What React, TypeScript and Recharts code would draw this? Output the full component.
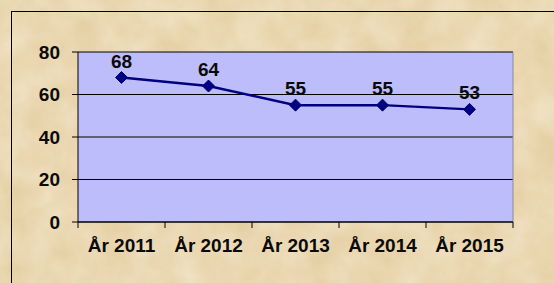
import React from 'react'
import { LineChart, Line, XAxis, YAxis, CartesianGrid, LabelList } from 'recharts'

const years = ['År 2011', 'År 2012', 'År 2013', 'År 2014', 'År 2015']
const values = [68, 64, 55, 55, 53]
const yTicks = [0, 20, 40, 60, 80]

const W = 554
const H = 283
const plotLeft = 78
const plotRight = 41
const halfBand = (W - plotLeft - plotRight) / years.length / 2

const font = 'Arial, "Liberation Sans", sans-serif'
const textFill = '#0a0a0a'

// category label plus the small tick mark at the left band edge (and right edge for the last one)
function YearTick(props: any) {
  const { x, y, payload, index } = props
  return (
    <g>
      <line x1={x - halfBand} x2={x - halfBand} y1={y} y2={y + 6} stroke="#000" strokeWidth={1} />
      {index === years.length - 1 && (
        <line x1={x + halfBand} x2={x + halfBand} y1={y} y2={y + 6} stroke="#000" strokeWidth={1} />
      )}
      <text x={x} y={y + 30} textAnchor="middle" fontFamily={font} fontWeight="bold" fontSize={19} fill={textFill}>
        {payload.value}
      </text>
    </g>
  )
}

function Diamond(props: any) {
  const { cx, cy } = props
  if (cx == null || cy == null) return null
  const r = 6
  return (
    <polygon
      points={`${cx},${cy - r} ${cx + r},${cy} ${cx},${cy + r} ${cx - r},${cy}`}
      fill="#000080"
      stroke="#000080"
    />
  )
}

export default function App() {
  const data = years.map((year, i) => ({ year, value: values[i] }))

  return (
    <div style={{ position: 'absolute', left: 0, top: 0, width: W, height: H, overflow: 'hidden', background: '#E4CDA0' }}>
      <svg width={W} height={H} style={{ position: 'absolute', left: 0, top: 0 }}>
        <defs>
          <filter id="paper" x="0" y="0" width="100%" height="100%">
            <feTurbulence type="fractalNoise" baseFrequency="0.03" numOctaves={4} seed={3} />
            <feColorMatrix type="matrix" values="0 0 0 0 0.98  0 0 0 0 0.93  0 0 0 0 0.8  0 0 0 0.6 -0.05" />
          </filter>
        </defs>
        <rect width={W} height={H} filter="url(#paper)" />
      </svg>
      <div style={{ position: 'absolute', left: 11, top: 11, width: W + 20, height: H + 20, borderTop: '1px solid #000', borderLeft: '1px solid #000' }} />
      <div style={{ position: 'absolute', left: 0, top: 0 }}>
        <LineChart width={W} height={H} data={data} margin={{ top: 52, right: plotRight, bottom: 0, left: 0 }}>
          <CartesianGrid vertical={false} stroke="#000" fill="#BDBDFB" fillOpacity={1} />
          <CartesianGrid
            horizontal={false}
            stroke="#8a8a9a"
            verticalCoordinatesGenerator={({ offset }: any) => [offset.left + offset.width]}
          />
          <XAxis
            dataKey="year"
            height={61}
            padding={{ left: halfBand, right: halfBand }}
            axisLine={{ stroke: '#000' }}
            tickLine={false}
            tickSize={0}
            tickMargin={0}
            interval={0}
            tick={<YearTick />}
          />
          <YAxis
            width={plotLeft}
            domain={[0, 80]}
            ticks={yTicks}
            axisLine={{ stroke: '#000' }}
            tickLine={{ stroke: '#000' }}
            tickSize={6}
            tickMargin={12}
            tick={{ fontFamily: font, fontWeight: 'bold', fontSize: 19, fill: textFill }}
          />
          <Line
            type="linear"
            dataKey="value"
            stroke="#000080"
            strokeWidth={2.5}
            dot={<Diamond />}
            activeDot={false}
            isAnimationActive={false}
          >
            <LabelList
              dataKey="value"
              position="top"
              offset={10}
              style={{ fontFamily: font, fontWeight: 'bold', fontSize: 19, fill: textFill }}
            />
          </Line>
        </LineChart>
      </div>
    </div>
  )
}
